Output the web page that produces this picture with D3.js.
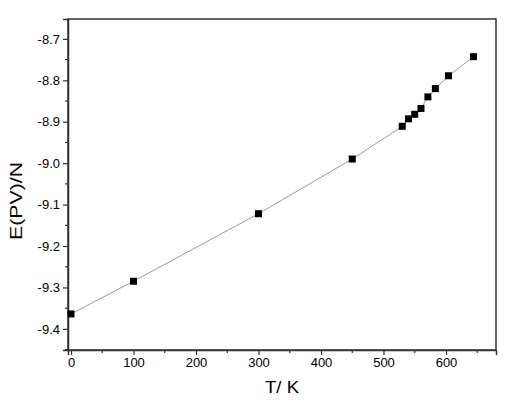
<!DOCTYPE html>
<html><head><meta charset="utf-8">
<script src="https://cdn.jsdelivr.net/npm/d3@7"></script>
<style>body{margin:0;background:#fff}svg{display:block}text{font-family:"Liberation Sans",Arial,sans-serif;fill:#000}</style>
</head><body>
<svg id="c" width="519" height="405"></svg>
<script>
const temps = [0, 100, 300, 450, 530, 540, 550, 560, 571, 583, 604, 644];
const energies = [-9.364, -9.285, -9.122, -8.990, -8.911, -8.893, -8.882, -8.868, -8.840, -8.820, -8.789, -8.743];
const xTicks = [0, 100, 200, 300, 400, 500, 600];
const yTicks = [-9.4, -9.3, -9.2, -9.1, -9.0, -8.9, -8.8, -8.7];

const svg = d3.select("#c");
const L = 68, R = 496, T = 19, B = 350;
const x = d3.scaleLinear().domain([-4.8, 680]).range([L, R]);
const y = d3.scaleLinear().domain([-9.451, -8.652]).range([B, T]);
const axisColor = "#333";

// frame
svg.append("rect").attr("x", L).attr("y", T).attr("width", R - L).attr("height", B - T)
  .attr("fill", "none").attr("stroke", axisColor).attr("stroke-width", 1.5);

// minor ticks
const xMinor = d3.range(50, 680, 100);
const yMinor = d3.range(-9.45, -8.65, 0.1).map(v => +v.toFixed(2));
svg.append("g").selectAll("line").data(xMinor).join("line")
  .attr("x1", d => x(d)).attr("x2", d => x(d)).attr("y1", B).attr("y2", B + 3)
  .attr("stroke", axisColor).attr("stroke-width", 1.2);
svg.append("g").selectAll("line").data(yMinor).join("line")
  .attr("y1", d => y(d)).attr("y2", d => y(d)).attr("x1", L).attr("x2", L - 3)
  .attr("stroke", axisColor).attr("stroke-width", 1.2);

// axes
const gx = svg.append("g").attr("transform", `translate(0,${B})`)
  .call(d3.axisBottom(x).tickValues(xTicks).tickSize(5).tickPadding(3).tickFormat(d3.format("d")));
const gy = svg.append("g").attr("transform", `translate(${L},0)`)
  .call(d3.axisLeft(y).tickValues(yTicks).tickSize(5).tickPadding(3).tickFormat(d3.format(".1f")));
[gx, gy].forEach(g => {
  g.select(".domain").attr("stroke", axisColor).attr("stroke-width", 1.5);
  g.selectAll(".tick line").attr("stroke", axisColor).attr("stroke-width", 1.2);
  g.selectAll(".tick text").attr("font-size", 13).attr("font-family", "Liberation Sans, Arial, sans-serif").attr("fill", "#000");
});
gy.selectAll(".tick text").text(d => d3.format(".1f")(d).replace("−", "-"));

// line
const pts = temps.map((t, i) => [t, energies[i]]);
svg.append("path").datum(pts)
  .attr("d", d3.line().x(d => x(d[0])).y(d => y(d[1])))
  .attr("fill", "none").attr("stroke", "#9a9a9a").attr("stroke-width", 1);

// markers
const s = 7;
svg.append("g").selectAll("rect").data(pts).join("rect")
  .attr("x", d => x(d[0]) - s / 2).attr("y", d => y(d[1]) - s / 2)
  .attr("width", s).attr("height", s).attr("fill", "#000");

// titles
svg.append("text").attr("x", 282).attr("y", 393).attr("text-anchor", "middle")
  .attr("font-size", 16).attr("textLength", 34).attr("lengthAdjust", "spacingAndGlyphs").text("T/ K");
svg.append("text").attr("transform", "translate(22,201) rotate(-90)").attr("text-anchor", "middle")
  .attr("font-size", 16).attr("textLength", 78).attr("lengthAdjust", "spacingAndGlyphs").text("E(PV)/N");
</script>
</body></html>
